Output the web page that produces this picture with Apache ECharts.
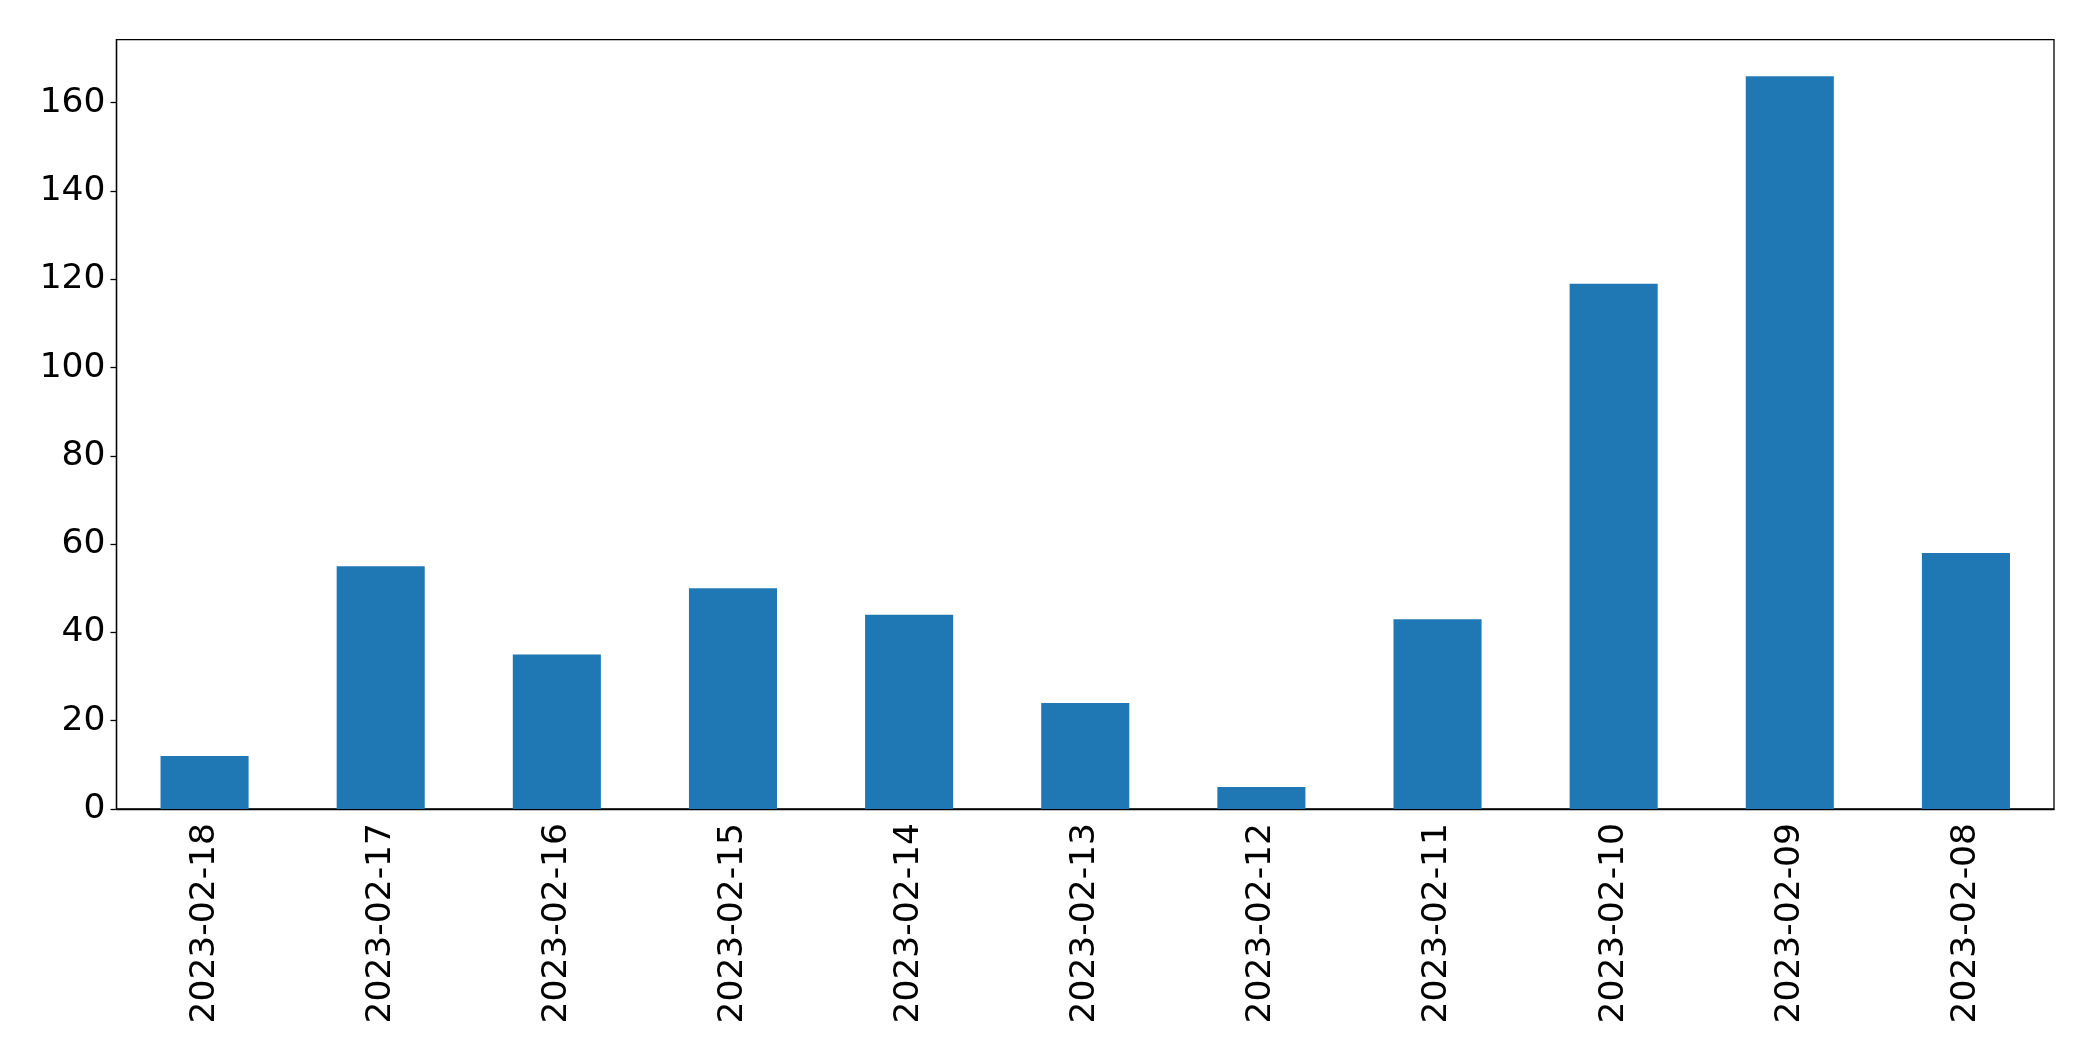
<!DOCTYPE html>
<html>
<head>
<meta charset="utf-8">
<script src="https://cdn.jsdelivr.net/npm/echarts@6/dist/echarts.min.js"></script>
<style>
  html, body { margin: 0; padding: 0; background: #fff; }
  #chart { width: 2093px; height: 1061px; }
</style>
</head>
<body>
<div id="chart"></div>
<script>
const categories = ["2023-02-18", "2023-02-17", "2023-02-16", "2023-02-15", "2023-02-14", "2023-02-13", "2023-02-12", "2023-02-11", "2023-02-10", "2023-02-09", "2023-02-08"];
const values = [12, 55, 35, 50, 44, 24, 5, 43, 119, 166, 58];
const yTicks = [0, 20, 40, 60, 80, 100, 120, 140, 160];

const chart = echarts.init(document.getElementById('chart'), null, { renderer: 'canvas' });
const font = 'DejaVu Sans';
chart.setOption({
  animation: false,
  backgroundColor: '#ffffff',
  grid: {
    left: 116.5, right: 39, top: 39.6, bottom: 252,
    show: true, borderColor: '#000000', borderWidth: 1.3, containLabel: false
  },
  xAxis: {
    type: 'category',
    data: categories,
    boundaryGap: true,
    axisLine: { lineStyle: { color: '#000000', width: 1.3 } },
    axisTick: { alignWithLabel: true, length: 6, lineStyle: { color: '#000000', width: 1.3 } },
    axisLabel: { rotate: 90, fontSize: 34.5, color: '#000000', fontFamily: font, margin: 14, interval: 0 },
    splitLine: { show: false }
  },
  yAxis: {
    type: 'value',
    min: 0,
    max: 174.3,
    interval: 20,
    axisLine: { show: true, lineStyle: { color: '#000000', width: 1.3 } },
    axisTick: { show: true, length: 6, lineStyle: { color: '#000000', width: 1.3 } },
    axisLabel: {
      fontSize: 34.5, color: '#000000', fontFamily: font, margin: 11,
      showMaxLabel: false,
      formatter: function (v) { return yTicks.indexOf(v) >= 0 ? String(v) : ''; }
    },
    splitLine: { show: false }
  },
  series: [{
    type: 'bar',
    data: values,
    barCategoryGap: '50%',
    itemStyle: { color: '#1f77b4' }
  }]
});
</script>
</body>
</html>
